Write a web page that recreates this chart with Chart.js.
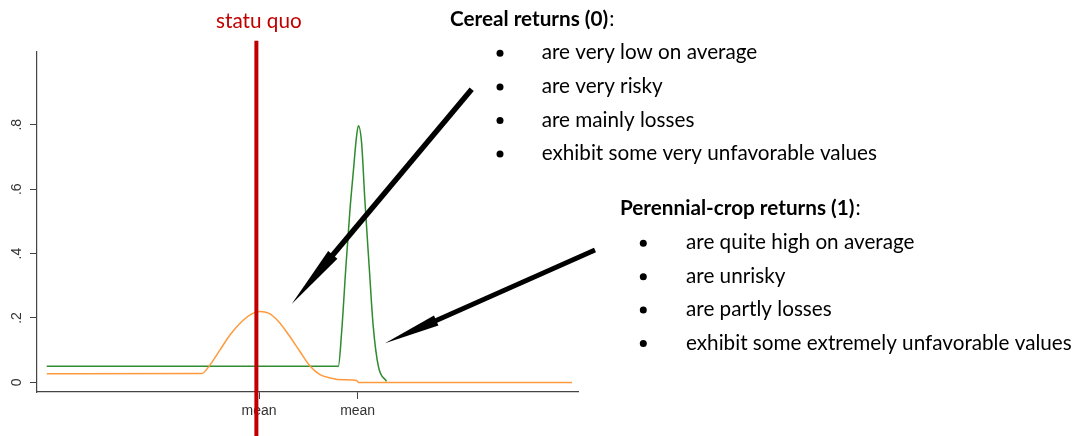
<!DOCTYPE html>
<html><head><meta charset="utf-8">
<script src="https://cdn.jsdelivr.net/npm/chart.js@4/dist/chart.umd.min.js"></script>
<style>html,body{margin:0;padding:0;background:#fff}#wrap{width:1090px;height:436px;position:relative}</style>
</head><body><div id="wrap"><canvas id="c" width="1090" height="436"></canvas></div>
<script>
// ---- data (x in arbitrary return units 0..100, y = density) ----
const cerealX = [1.8, 30.5, 31.7, 33.8, 35.7, 37.9, 39.7, 41.2, 42.8, 44.6, 46.5, 48.6, 50.5, 52.3, 54.2, 56.6, 59.1, 59.4, 98.9];
const cerealY = [0.027, 0.028, 0.048, 0.100, 0.148, 0.190, 0.213, 0.220, 0.215, 0.190, 0.148, 0.096, 0.050, 0.024, 0.014, 0.008, 0.006, 0, 0];
const perennialX = [1.8, 55.7, 56.3, 57.1, 57.85, 58.5, 59.0, 59.4, 60.0, 60.6, 61.4, 62.15, 63.1, 64.6];
const perennialY = [0.05, 0.05, 0.154, 0.36, 0.536, 0.66, 0.754, 0.797, 0.744, 0.567, 0.36, 0.174, 0.05, 0.003];
const meanTicks = [41.05, 59.27];
const meanLabels = ['mean', 'mean'];
const yTicks = [0, 0.2, 0.4, 0.6, 0.8];
const yTickLabels = ['0', '.2', '.4', '.6', '.8'];
const statusQuoX = 40.55;
const statusQuoLabel = 'statu quo';
const cerealTitle = 'Cereal returns (0)';
const cerealPoints = ['are very low on average', 'are very risky', 'are mainly losses', 'exhibit some very unfavorable values'];
const perennialTitle = 'Perennial-crop returns (1)';
const perennialPoints = ['are quite high on average', 'are unrisky', 'are partly losses', 'exhibit some extremely unfavorable values'];

const FAM = 'Lato, "Open Sans", sans-serif';

function drawArrow(ctx, x0, y0, x1, y1, w, headLen, halfW) {
  const dx = x1 - x0, dy = y1 - y0, L = Math.hypot(dx, dy);
  const ux = dx / L, uy = dy / L, nx = -uy, ny = ux;
  const bx = x1 - ux * headLen, by = y1 - uy * headLen;
  ctx.strokeStyle = '#000'; ctx.fillStyle = '#000'; ctx.lineWidth = w; ctx.lineCap = 'butt';
  ctx.beginPath(); ctx.moveTo(x0, y0); ctx.lineTo(bx + ux * 3, by + uy * 3); ctx.stroke();
  ctx.beginPath();
  ctx.moveTo(bx + nx * halfW, by + ny * halfW);
  ctx.lineTo(x1, y1);
  ctx.lineTo(bx - nx * halfW, by - ny * halfW);
  ctx.closePath(); ctx.fill();
}

function drawBlock(ctx, title, items, tx, tBase, bulletX, textX, row0, step, size) {
  ctx.fillStyle = '#000'; ctx.textAlign = 'left'; ctx.textBaseline = 'alphabetic';
  ctx.font = 'bold ' + size + 'px ' + FAM;
  ctx.fillText(title, tx, tBase);
  const w = ctx.measureText(title).width;
  ctx.font = size + 'px ' + FAM;
  ctx.fillText(':', tx + w + 1, tBase);
  items.forEach((s, i) => {
    const ry = row0 + i * step;
    ctx.beginPath(); ctx.arc(bulletX, ry, 3.5, 0, Math.PI * 2); ctx.fill();
    ctx.fillText(s, textX, ry + 6);
  });
}

const annot = {
  id: 'annot',
  afterDraw(chart) {
    const ctx = chart.ctx, xs = chart.scales.x;
    ctx.save();
    drawArrow(ctx, 471.7, 89.3, 291.7, 304, 5.4, 64, 6);
    drawArrow(ctx, 595, 250, 385, 343.3, 4.8, 56, 5.5);
    const px = xs.getPixelForValue(statusQuoX);
    ctx.strokeStyle = '#C00000'; ctx.lineWidth = 4; ctx.lineCap = 'butt';
    ctx.beginPath(); ctx.moveTo(px, 40.7); ctx.lineTo(px, 436); ctx.stroke();
    ctx.font = '20px ' + FAM;
    const size = +(20 * 385.7 / ctx.measureText(perennialPoints[3]).width).toFixed(2);
    ctx.fillStyle = '#C00000'; ctx.textAlign = 'center'; ctx.textBaseline = 'alphabetic';
    ctx.font = size + 'px ' + FAM;
    ctx.fillText(statusQuoLabel, px + 2.5, 28);
    drawBlock(ctx, cerealTitle, cerealPoints, 450, 26, 500, 541.7, 53.3, 33.6, size);
    drawBlock(ctx, perennialTitle, perennialPoints, 620, 215, 643.3, 686, 243.3, 33.4, size);
    ctx.restore();
  }
};

const toPts = (xs, ys) => xs.map((x, i) => ({x, y: ys[i]}));

new Chart(document.getElementById('c'), {
  type: 'line',
  data: {
    datasets: [
      {label: 'Cereal', data: toPts(cerealX, cerealY), borderColor: '#FF9A3C', borderWidth: 1.5, pointRadius: 0, cubicInterpolationMode: 'monotone', fill: false},
      {label: 'Perennial', data: toPts(perennialX, perennialY), borderColor: '#2E8B2E', borderWidth: 1.5, pointRadius: 0, cubicInterpolationMode: 'monotone', fill: false}
    ]
  },
  options: {
    responsive: false, animation: false, devicePixelRatio: 1,
    layout: {padding: {top: 52, right: 512, left: 0, bottom: 0}},
    plugins: {legend: {display: false}, tooltip: {enabled: false}},
    scales: {
      x: {
        type: 'linear', min: 0, max: 100,
        afterBuildTicks: s => { s.ticks = meanTicks.map(v => ({value: v})); },
        afterFit: s => { s.height = 44; },
        ticks: {callback: (v, i) => meanLabels[i], color: '#333', font: {family: '"Liberation Sans", Arial', size: 14}, padding: 4, autoSkip: false, maxRotation: 0},
        grid: {display: true, drawOnChartArea: false, drawTicks: true, tickLength: 7, color: '#444'},
        border: {display: true, color: '#444', width: 1.2}
      },
      y: {
        type: 'linear', min: -0.0298, max: 1.026,
        afterBuildTicks: s => { s.ticks = yTicks.map(v => ({value: v})); },
        afterFit: s => { s.width = 37; },
        ticks: {callback: (v, i) => yTickLabels[i], color: '#333', font: {family: '"Liberation Sans", Arial', size: 14}, padding: 7, minRotation: 90, maxRotation: 90, crossAlign: 'center'},
        grid: {display: true, drawOnChartArea: false, drawTicks: true, tickLength: 7, color: '#444'},
        border: {display: true, color: '#444', width: 1.2}
      }
    }
  },
  plugins: [annot]
});
</script></body></html>
